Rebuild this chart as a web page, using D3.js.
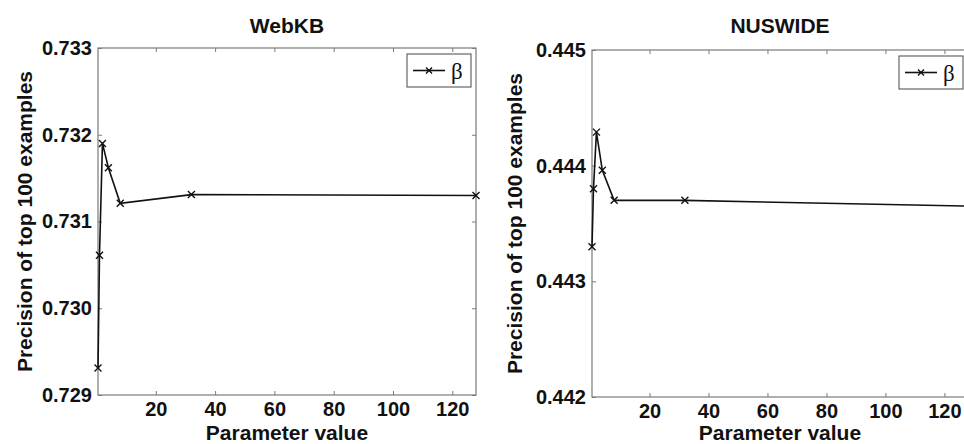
<!DOCTYPE html>
<html>
<head>
<meta charset="utf-8">
<script src="https://cdn.jsdelivr.net/npm/d3@7"></script>
<style>
  html, body { margin: 0; padding: 0; background: #fff; }
  svg { display: block; }
  text { font-family: "Liberation Sans", Arial, sans-serif; font-weight: bold; fill: #111; }
</style>
</head>
<body>
<svg id="chart" width="964" height="444"></svg>
<script>
// ---- data ----
const paramValues = [0.5, 1, 2, 4, 8, 32, 128];
const webkbPrecision = [0.72931, 0.73061, 0.73190, 0.73162, 0.73121, 0.73131, 0.73130];
const nuswidePrecision = [0.44330, 0.44380, 0.44429, 0.44396, 0.44370, 0.44370, 0.44365];
const xTicks = [20, 40, 60, 80, 100, 120];
const webkbYTicks = [0.729, 0.730, 0.731, 0.732, 0.733];
const nuswideYTicks = [0.442, 0.443, 0.444, 0.445];
const titles = ["WebKB", "NUSWIDE"];
const xLabel = "Parameter value";
const yLabel = "Precision of top 100 examples";
const legendLabel = "β";

const svg = d3.select("#chart");

function drawPanel(opt) {
  const { left, right, top, bottom, values, yDomain, yTicks, title, yLabelX } = opt;
  const x = d3.scaleLinear().domain([0.5, 128]).range([left, right]);
  const y = d3.scaleLinear().domain(yDomain).range([bottom, top]);
  const g = svg.append("g");

  // frame
  g.append("rect").attr("x", left).attr("y", top)
    .attr("width", right - left).attr("height", bottom - top)
    .attr("fill", "none").attr("stroke", "#7a7a7a").attr("stroke-width", 1.2);

  const styleAxis = sel => {
    sel.select(".domain").remove();
    sel.selectAll(".tick line").attr("stroke", "#7a7a7a").attr("stroke-width", 1);
  };

  // bottom axis
  g.append("g").attr("transform", `translate(0,${bottom})`)
    .call(d3.axisBottom(x).tickValues(xTicks).tickSizeInner(-4).tickSizeOuter(0).tickPadding(7))
    .call(styleAxis)
    .selectAll("text").style("font-size", "20px").style("font-family", "'Liberation Sans', Arial, sans-serif").style("font-weight", "bold").attr("fill", "#111");
  // top axis
  g.append("g").attr("transform", `translate(0,${top})`)
    .call(d3.axisTop(x).tickValues(xTicks).tickSizeInner(-4).tickSizeOuter(0).tickFormat(""))
    .call(styleAxis);
  // left axis
  g.append("g").attr("transform", `translate(${left},0)`)
    .call(d3.axisLeft(y).tickValues(yTicks).tickSizeInner(-4).tickSizeOuter(0).tickPadding(6).tickFormat(d3.format(".3f")))
    .call(styleAxis)
    .selectAll("text").style("font-size", "20px").style("font-family", "'Liberation Sans', Arial, sans-serif").style("font-weight", "bold").attr("fill", "#111");
  // right axis
  g.append("g").attr("transform", `translate(${right},0)`)
    .call(d3.axisRight(y).tickValues(yTicks).tickSizeInner(-4).tickSizeOuter(0).tickFormat(""))
    .call(styleAxis);

  // line
  const pts = paramValues.map((p, i) => [p, values[i]]);
  g.append("path").datum(pts)
    .attr("fill", "none").attr("stroke", "#111").attr("stroke-width", 1.6)
    .attr("d", d3.line().x(d => x(d[0])).y(d => y(d[1])));
  // markers
  const m = 3.5;
  g.selectAll(".mk").data(pts).enter().append("path")
    .attr("fill", "none").attr("stroke", "#111").attr("stroke-width", 1.4)
    .attr("d", d => {
      const cx = x(d[0]), cy = y(d[1]);
      return `M${cx - m},${cy - m}L${cx + m},${cy + m}M${cx - m},${cy + m}L${cx + m},${cy - m}`;
    });

  // title
  g.append("text").attr("x", (left + right) / 2).attr("y", 33)
    .attr("text-anchor", "middle").style("font-size", "21px").text(title);
  // x label
  g.append("text").attr("x", (left + right) / 2).attr("y", 440)
    .attr("text-anchor", "middle").style("font-size", "21px").text(xLabel);
  // y label
  g.append("text").attr("transform", `translate(${yLabelX},${(top + bottom) / 2}) rotate(-90)`)
    .attr("text-anchor", "middle").style("font-size", "21px").text(yLabel);

  // legend
  const lw = 64, lh = 33;
  const lx = right - 5 - lw, ly = top + 6;
  const lg = g.append("g").attr("transform", `translate(${lx},${ly})`);
  lg.append("rect").attr("width", lw).attr("height", lh)
    .attr("fill", "#fff").attr("stroke", "#666").attr("stroke-width", 1.2);
  lg.append("line").attr("x1", 6).attr("x2", 38).attr("y1", lh / 2).attr("y2", lh / 2)
    .attr("stroke", "#111").attr("stroke-width", 1.6);
  const mx = 22, my = lh / 2, mm = 3;
  lg.append("path").attr("stroke", "#111").attr("stroke-width", 1.4).attr("fill", "none")
    .attr("d", `M${mx - mm},${my - mm}L${mx + mm},${my + mm}M${mx - mm},${my + mm}L${mx + mm},${my - mm}`);
  lg.append("text").attr("x", 44).attr("y", lh / 2 + 8)
    .style("font-family", "'Liberation Serif', 'Times New Roman', serif")
    .style("font-weight", "normal").style("font-size", "23px").text(legendLabel);
}

drawPanel({ left: 98, right: 476, top: 48, bottom: 395, values: webkbPrecision,
  yDomain: [0.729, 0.733], yTicks: webkbYTicks, title: titles[0], yLabelX: 32 });
drawPanel({ left: 592, right: 968, top: 50, bottom: 397, values: nuswidePrecision,
  yDomain: [0.442, 0.445], yTicks: nuswideYTicks, title: titles[1], yLabelX: 522 });
</script>
</body>
</html>
